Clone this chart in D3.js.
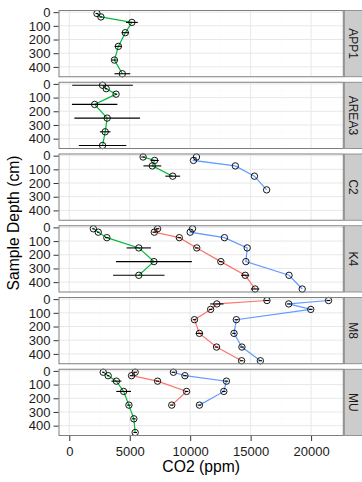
<!DOCTYPE html>
<html>
<head>
<meta charset="utf-8">
<script src="https://cdn.jsdelivr.net/npm/d3@7"></script>
<style>
  body { margin: 0; background: #fff; }
  svg { display: block; }
  text { font-family: "Liberation Sans", Arial, Helvetica, sans-serif; }
</style>
</head>
<body>
<svg id="chart" width="362" height="482"></svg>
<script>
// Sites (facet rows) and sampling depths (cm)
const sites = ["APP1", "AREA3", "C2", "K4", "M8", "MU"];
const depths = [10, 35, 75, 150, 250, 350, 450];

// Tick values
const xTicks = [0, 5000, 10000, 15000, 20000];
const yTicks = [0, 100, 200, 300, 400];

// CO2 (ppm) per series, one row per site (null = no profile at that site)
const seriesNames = ["Series 1", "Series 2", "Series 3"];
const seriesColors = ["#F8766D", "#00BA38", "#619CFF"];

const co2Series1 = [
  null,
  null,
  null,
  [7303, 7031, 9102, 10546, 12535, 14552, 15369],
  [16350, 12208, 11690, 10355, 10764, 12181, 14252],
  [5450, 5150, 7303, 9701, 8475, null, null]
];
const sdSeries1 = [
  null,
  null,
  null,
  [150, 150, 150, 150, 150, 330, 340],
  [200, 550, 150, 150, 300, 150, 150],
  [150, 150, 150, 150, 150, null, null]
];

const co2Series2 = [
  [2289, 2616, 5178, 4633, 4060, 3733, 4387],
  [2752, 3052, 3870, 2098, 3134, 2970, 2752],
  [6104, 7058, 6867, 8557, null, null, null],
  [1989, 2398, 3107, 5750, 7003, 5750, null],
  null,
  [2807, 3216, 3897, 4496, 4932, 5341, 5450]
];
const sdSeries2 = [
  [120, 120, 490, 300, 300, 200, 650],
  [2507, 100, 100, 1880, 2711, 436, 1962],
  [150, 340, 735, 613, null, null, null],
  [100, 100, 150, 1008, 3134, 2126, null],
  null,
  [100, 100, 410, 610, 150, 150, 150]
];

const co2Series3 = [
  null,
  null,
  [10519, 10273, 13734, 15315, 16323, null, null],
  [10192, 10001, 12835, 14715, 14606, 18176, 19266],
  [21446, 18149, 19974, 13816, 13625, 14279, 15805],
  [8611, 9565, 12998, 12780, 10764, null, null]
];
const sdSeries3 = [
  null,
  null,
  null,
  null,
  [150, 150, 150, 150, 150, 150, 150],
  [150, 150, 150, 150, 150, null, null]
];

// Build long-format records from the arrays above
const co2Rows = [co2Series1, co2Series2, co2Series3];
const sdRows = [sdSeries1, sdSeries2, sdSeries3];
const records = [];
seriesNames.forEach((name, si) => {
  sites.forEach((site, ri) => {
    const vals = co2Rows[si][ri];
    if (!vals) return;
    const sds = sdRows[si][ri];
    vals.forEach((v, di) => {
      if (v == null) return;
      const sd = sds && sds[di] != null ? sds[di] : 0;
      records.push({ series: si, site, depth: depths[di], co2: v, lo: v - sd, hi: v + sd, sd });
    });
  });
});

// Layout
const W = 362, H = 482;
const panelLeft = 59, panelRight = 343.3;
const panelTop = 10.5, panelBottom = 435.5;
const stripLeft = 344.3, stripRight = 362;

const svg = d3.select("#chart");

// Continuous range padded by 5% on each side
function expand([a, b], f = 0.05) {
  const d = (b - a) * f;
  return [a - d, b + d];
}

const x = d3.scaleLinear()
  .domain(expand([d3.min(records, d => d.lo), d3.max(records, d => d.hi)]))
  .range([panelLeft, panelRight]);

const row = d3.scaleBand()
  .domain(sites)
  .range([panelTop, panelBottom])
  .paddingInner(0.0767)
  .paddingOuter(0);

const ph = row.bandwidth();
const y = d3.scaleLinear()
  .domain(expand(d3.extent(depths)))
  .range([0, ph]);

const xMinor = d3.range(-2500, 25000, 5000).filter(v => v > x.domain()[0] && v < x.domain()[1]);
const yMinor = d3.range(-50, 500, 100).filter(v => v > y.domain()[0] && v < y.domain()[1]);

const line = d3.line().x(d => x(d.co2)).y(d => y(d.depth));

sites.forEach(site => {
  const g = svg.append("g").attr("transform", `translate(0,${row(site)})`);

  g.append("rect")
    .attr("x", panelLeft).attr("y", 0)
    .attr("width", panelRight - panelLeft).attr("height", ph)
    .attr("fill", "#fff");

  // minor grid
  g.selectAll(".xminor").data(xMinor).join("line")
    .attr("x1", d => x(d)).attr("x2", d => x(d))
    .attr("y1", 0).attr("y2", ph)
    .attr("stroke", "#FAFAFA").attr("stroke-width", 0.5);
  g.selectAll(".yminor").data(yMinor).join("line")
    .attr("x1", panelLeft).attr("x2", panelRight)
    .attr("y1", d => y(d)).attr("y2", d => y(d))
    .attr("stroke", "#FAFAFA").attr("stroke-width", 0.5);

  // major grid
  g.selectAll(".xmajor").data(xTicks).join("line")
    .attr("x1", d => x(d)).attr("x2", d => x(d))
    .attr("y1", 0).attr("y2", ph)
    .attr("stroke", "#E8E8E8").attr("stroke-width", 1);
  g.selectAll(".ymajor").data(yTicks).join("line")
    .attr("x1", panelLeft).attr("x2", panelRight)
    .attr("y1", d => y(d)).attr("y2", d => y(d))
    .attr("stroke", "#E8E8E8").attr("stroke-width", 1);

  const siteRecs = records.filter(d => d.site === site);

  // profile lines
  seriesNames.forEach((name, si) => {
    const pts = siteRecs.filter(d => d.series === si).sort((a, b) => a.depth - b.depth);
    if (!pts.length) return;
    g.append("path")
      .datum(pts)
      .attr("d", line)
      .attr("fill", "none")
      .attr("stroke", seriesColors[si])
      .attr("stroke-width", 1.2);
  });

  // horizontal error bars
  g.selectAll(".err").data(siteRecs.filter(d => d.sd > 0)).join("line")
    .attr("x1", d => x(d.lo)).attr("x2", d => x(d.hi))
    .attr("y1", d => y(d.depth)).attr("y2", d => y(d.depth))
    .attr("stroke", "#000").attr("stroke-width", 1.1);

  // open circle markers
  g.selectAll(".pt").data(siteRecs).join("circle")
    .attr("cx", d => x(d.co2)).attr("cy", d => y(d.depth))
    .attr("r", 3.2)
    .attr("fill", "none")
    .attr("stroke", "#000")
    .attr("stroke-width", 0.9);

  // panel border
  g.append("rect")
    .attr("x", panelLeft).attr("y", 0)
    .attr("width", panelRight - panelLeft).attr("height", ph)
    .attr("fill", "none").attr("stroke", "#7F7F7F").attr("stroke-width", 1);

  // strip
  g.append("rect")
    .attr("x", stripLeft).attr("y", 0)
    .attr("width", stripRight - stripLeft + 2).attr("height", ph)
    .attr("fill", "#CCCCCC").attr("stroke", "#7F7F7F").attr("stroke-width", 0.8);
  g.append("text")
    .attr("transform", `translate(${(stripLeft + stripRight) / 2},${ph / 2}) rotate(90)`)
    .attr("text-anchor", "middle")
    .attr("dy", "0.35em")
    .attr("font-size", 12)
    .attr("fill", "#1a1a1a")
    .text(site);

  // y axis
  const ya = g.append("g")
    .attr("transform", `translate(${panelLeft - 0.5},0)`)
    .call(d3.axisLeft(y).tickValues(yTicks).tickSize(5).tickPadding(3).tickFormat(d3.format("d")));
  ya.select(".domain").remove();
  ya.selectAll(".tick line").attr("stroke", "#333").attr("stroke-width", 1);
  ya.selectAll(".tick text")
    .attr("font-size", 13)
    .attr("font-family", "\"Liberation Sans\", Arial, sans-serif")
    .attr("fill", "#1a1a1a");
});

// x axis under the last panel
const xa = svg.append("g")
  .attr("transform", `translate(0,${panelBottom + 0.5})`)
  .call(d3.axisBottom(x).tickValues(xTicks).tickSize(5).tickPadding(6).tickFormat(d3.format("d")));
xa.select(".domain").remove();
xa.selectAll(".tick line").attr("stroke", "#333").attr("stroke-width", 1);
xa.selectAll(".tick text")
  .attr("font-size", 13)
  .attr("font-family", "\"Liberation Sans\", Arial, sans-serif")
  .attr("fill", "#1a1a1a");

// axis titles
svg.append("text")
  .attr("x", (panelLeft + panelRight) / 2)
  .attr("y", 472)
  .attr("text-anchor", "middle")
  .attr("font-size", 15.7)
  .attr("fill", "#000")
  .text("CO2 (ppm)");

svg.append("text")
  .attr("transform", `translate(13.3,${(panelTop + panelBottom) / 2}) rotate(-90)`)
  .attr("text-anchor", "middle")
  .attr("dy", "0.35em")
  .attr("font-size", 15.7)
  .attr("fill", "#000")
  .text("Sample Depth (cm)");
</script>
</body>
</html>
